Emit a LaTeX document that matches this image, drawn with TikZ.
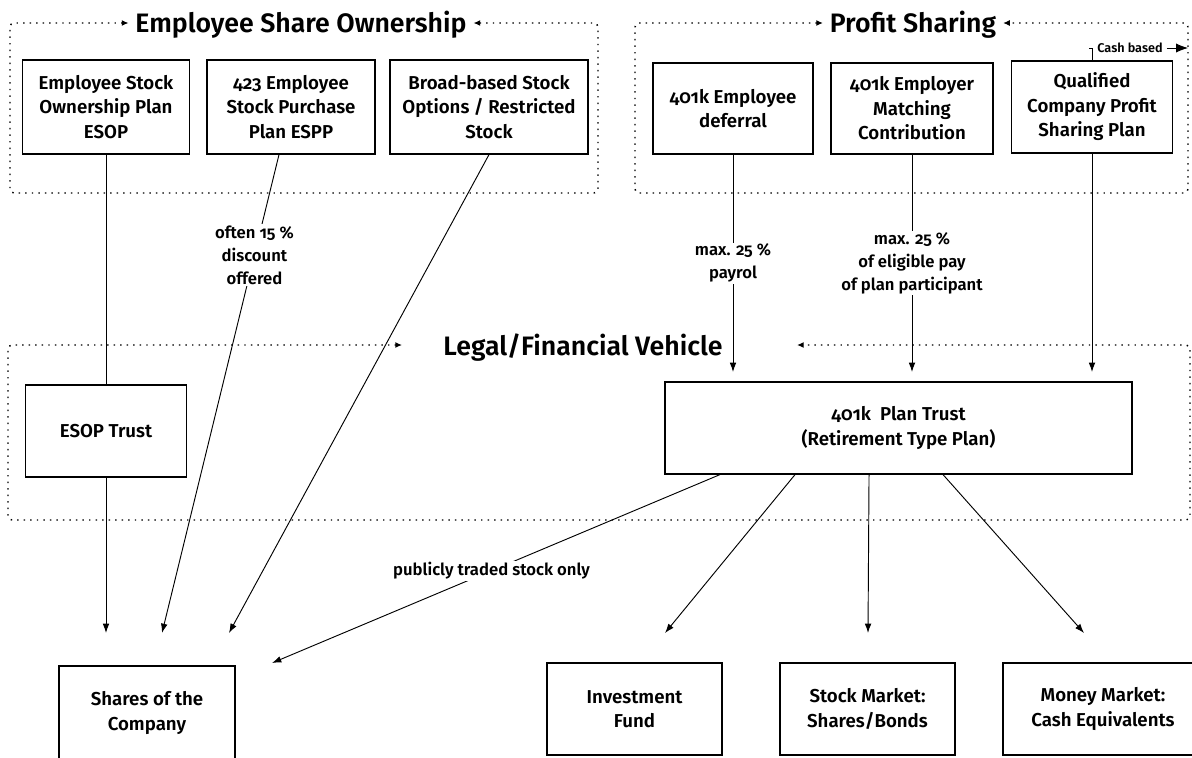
\documentclass[tikz,border=0pt]{standalone}
\usepackage{fontspec}
\setmainfont{Fira Sans}[Numbers=OldStyle, UprightFont=* SemiBold, BoldFont=* Bold]
\usepackage{tikz}
\usetikzlibrary{arrows.meta}

\tikzset{
	plan/.style={draw,line width=0.9pt,align=center,inner sep=0pt,font=\fontsize{14}{18.4}\selectfont},
	boxsize/.style 2 args={minimum width=#1*0.75pt,minimum height=#2*0.75pt},
	heading/.style={inner xsep=5pt,inner ysep=0pt,text height=14pt,text depth=0pt,font=\fontsize{20}{24}\selectfont},
	note/.style={fill=white,align=center,inner sep=1pt,font=\fontsize{12.5}{17.25}\selectfont},
	link/.style={line width=0.7pt},
	flow/.style={line width=0.7pt,-{Latex[length=7pt,width=5pt]}},
	frame/.style={line width=1.1pt,dash pattern=on 1.1pt off 3.8pt,rounded corners=3pt,{Latex[length=5pt,width=4.5pt]}-{Latex[length=5pt,width=4.5pt]}}
}

\begin{document}
\begin{tikzpicture}[x=0.75pt,y=0.75pt,yscale=-1,xscale=1]
	\useasboundingbox (0,0) rectangle (1192,757);
	\clip (0,0) rectangle (1192,757);

	% Headings
	\node[heading] (esotitle) at (301,23) {Employee Share Ownership};
	\node[heading] (pstitle) at (913,23) {Profit Sharing};
	\node[heading] (legaltitle) at (583,346) {Legal/Financial Vehicle};
	\coordinate (legalleft) at (402,345);
	\coordinate (legalright) at (797,345);

	% Dotted groups
	\draw[frame] (esotitle.west) -- (10,23) -- (10,193) -- (598,193) -- (598,23) -- (esotitle.east);
	\draw[frame] (pstitle.west) -- (635,23) -- (635,193) -- (1188,193) -- (1188,23) -- (pstitle.east);
	\draw[frame] (legalleft) -- (8,345) -- (8,520) -- (1190,520) -- (1190,345) -- (legalright);

	% Plans
	\node[plan,boxsize={167}{94}] (esop) at (106,107) {Employee Stock\\Ownership Plan\\ESOP};
	\node[plan,boxsize={168}{94}] (espp) at (291,107) {423 Employee\\Stock Purchase\\Plan ESPP};
	\node[plan,boxsize={198}{94}] (broad) at (489,107) {Broad-based Stock\\Options / Restricted\\Stock};
	\node[plan,boxsize={160}{91}] (deferral) at (733,108.5) {401k Employee\\deferral};
	\node[plan,boxsize={162}{91}] (matching) at (912,108.5) {401k Employer\\Matching\\Contribution};
	\node[plan,boxsize={161}{92}] (qualified) at (1092,107) {Qualified\\Company Profit\\Sharing Plan};

	% Vehicles
	\node[plan,boxsize={161}{92}] (esoptrust) at (106,431) {ESOP Trust};
	\node[plan,boxsize={467}{92}] (plantrust) at (898.5,428) {401k~ Plan Trust\\(Retirement Type Plan)};

	% Targets
	\node[plan,boxsize={176}{94}] (shares) at (147,713) {Shares of the\\Company};
	\node[plan,boxsize={175}{92}] (fund) at (634.5,709) {Investment\\Fund};
	\node[plan,boxsize={175}{92}] (stocks) at (867.5,709) {Stock Market:\\Shares/Bonds};
	\node[plan,boxsize={200}{92}] (money) at (1103,709) {Money Market:\\Cash Equivalents};

	% Cash based
	\node[inner xsep=3pt,inner ysep=1pt,font=\fontsize{9.5}{11}\selectfont] (cash) at (1130,48) {Cash based};
	\draw[link] (qualified.north) |- ([xshift=-3pt]cash.west);
	\draw[line width=0.7pt,-{Latex[length=9pt,width=7pt]}] (cash.east) -- (1188,48);

	% Arrow tips
	\coordinate (tipesop) at (106,633);
	\coordinate (tipespp) at (162,633);
	\coordinate (tipbroad) at (229,633);
	\coordinate (tippublic) at (272,663);
	\coordinate (tipfund) at (665,633);
	\coordinate (tipstocks) at (868,633);
	\coordinate (tipmoney) at (1084,633);

	% Connectors
	\draw[link] (esop.south) -- (esoptrust.north);
	\draw[flow] (esoptrust.south) -- (tipesop);
	\draw[flow] ([xshift=-9pt]espp.south) -- node[note,pos=0.21] {often 15 \%\\discount\\offered} (tipespp);
	\draw[flow] (broad.south) -- (tipbroad);
	\draw[flow] (deferral.south) -- node[note] {max. 25 \%\\payrol} ([yshift=20.25pt]deferral.south |- legalright);
	\draw[flow] (matching.south) -- node[note] {max. 25 \%\\of eligible pay\\of plan participant} ([yshift=20.25pt]matching.south |- legalright);
	\draw[flow] (qualified.south) -- ([yshift=20.25pt]qualified.south |- legalright);
	\draw[flow] ([xshift=-133.9pt]plantrust.south) -- node[note,pos=0.51] {publicly traded stock only} (tippublic);
	\draw[flow] ([xshift=-77.6pt]plantrust.south) -- (tipfund);
	\draw[flow] ([xshift=-22.1pt]plantrust.south) -- (tipstocks);
	\draw[flow] ([xshift=33.4pt]plantrust.south) -- (tipmoney);

\end{tikzpicture}
\end{document}
